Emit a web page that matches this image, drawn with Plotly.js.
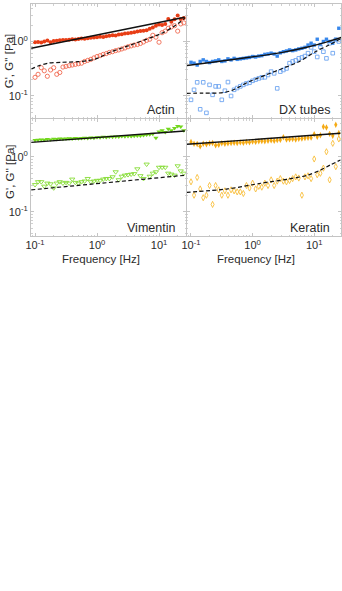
<!DOCTYPE html>
<html>
<head>
<meta charset="utf-8">
<script src="https://cdn.plot.ly/plotly-3.0.1.min.js"></script>
<style>html,body{margin:0;padding:0;background:#fff;}#chart{width:342px;height:591px;}</style>
</head>
<body>
<div id="chart"></div>
<script>
// Frequencies [Hz]
const freq = [0.1, 0.112, 0.126, 0.141, 0.158, 0.178, 0.2, 0.224, 0.251, 0.282,
  0.316, 0.355, 0.398, 0.447, 0.501, 0.562, 0.631, 0.708, 0.794, 0.891,
  1, 1.12, 1.26, 1.41, 1.58, 1.78, 2, 2.24, 2.51, 2.82,
  3.16, 3.55, 3.98, 4.47, 5.01, 5.62, 6.31, 7.08, 7.94, 8.91,
  10, 11.2, 12.6, 14.1, 15.8, 17.8, 20, 22.4, 25.1];

// Actin
const actinGp = [0.97, 0.98, 0.96, 1.00, 1.04, 0.97, 1.02, 1.03, 1.05, 1.06,
  1.07, 1.08, 1.10, 1.09, 1.11, 1.13, 1.12, 1.15, 1.17, 1.18,
  1.20, 1.22, 1.21, 1.25, 1.27, 1.30, 1.29, 1.34, 1.36, 1.40,
  1.42, 1.45, 1.47, 1.52, 1.55, 1.58, 1.60, 1.72, 1.80, 1.95,
  2.05, 2.00, 2.10, 2.6, 2.3, 2.55, 3.0, 2.6, 2.7];
const actinGpp = [0.22, 0.25, 0.33, 0.29, 0.23, 0.30, 0.33, 0.25, 0.27, 0.34,
  0.35, 0.36, 0.37, 0.38, 0.39, 0.40, 0.43, 0.45, 0.47, 0.50,
  0.53, 0.55, 0.58, 0.60, 0.63, 0.65, 0.68, 0.70, 0.73, 0.76,
  0.80, 0.83, 0.86, 0.88, 0.92, 0.98, 1.05, 1.10, 1.30, 1.20,
  0.97, 1.45, 1.55, 1.75, 1.85, 1.95, 1.55, 2.1, 2.2];
const actinFitF = [0.087, 26.0];
const actinGpFit = [0.75, 2.78];
const actinGppFitF = [0.087, 0.112, 0.162, 0.266, 0.494, 0.912, 1.70, 3.16, 5.89, 10.96, 17.8, 26.0];
const actinGppFit = [0.31, 0.355, 0.40, 0.415, 0.426, 0.47, 0.65, 0.83, 1.07, 1.41, 1.92, 2.66];

// DX tubes
const dxGp = [0.415, 0.40, 0.37, 0.43, 0.46, 0.43, 0.41, 0.43, 0.44, 0.46,
  0.43, 0.44, 0.48, 0.46, 0.49, 0.47, 0.48, 0.49, 0.50, 0.51,
  0.53, 0.52, 0.54, 0.55, 0.58, 0.59, 0.61, 0.59, 0.54, 0.62,
  0.65, 0.67, 0.70, 0.68, 0.70, 0.73, 0.75, 0.78, 0.86, 0.93,
  0.86, 1.10, 0.88, 1.0, 1.10, 1.0, 0.93, 1.10, 1.75];
const dxGpp = [0.085, 0.13, 0.178, 0.057, 0.178, 0.049, 0.16, 0.105, 0.15, 0.15,
  0.085, 0.125, 0.18, 0.10, 0.13, 0.14, 0.15, 0.16, 0.17, 0.175,
  0.19, 0.20, 0.21, 0.22, 0.22, 0.243, 0.28, 0.26, 0.138, 0.28,
  0.30, 0.32, 0.40, 0.43, 0.45, 0.49, 0.51, 0.54, 0.61, 0.78,
  0.65, 0.52, 0.80, 0.65, 0.49, 0.93, 0.61, 1.07, 1.0];
const dxFitF = [0.084, 0.257, 0.88, 3.05, 8.2, 15.2, 27.5];
const dxGpFit = [0.36, 0.426, 0.513, 0.633, 0.80, 0.965, 1.19];
const dxGppFitF = [0.084, 0.156, 0.328, 0.48, 0.88, 1.64, 3.05, 5.66, 10.5, 17.3, 27.5];
const dxGppFit = [0.112, 0.113, 0.115, 0.129, 0.183, 0.243, 0.32, 0.426, 0.65, 0.86, 1.14];

// Vimentin
const vimGp = [2.0, 2.02, 2.05, 2.02, 2.08, 2.05, 2.1, 2.08, 2.12, 2.1,
  2.12, 2.15, 2.13, 2.17, 2.15, 2.18, 2.2, 2.18, 2.22, 2.2,
  2.25, 2.23, 2.28, 2.25, 2.3, 2.28, 2.32, 2.3, 2.35, 2.33,
  2.36, 2.35, 2.38, 2.4, 2.42, 2.45, 2.5, 2.55, 2.6, 2.2,
  2.85, 3.0, 2.8, 3.2, 3.0, 3.3, 3.6, 3.5, 3.0];
const vimGpp = [0.31, 0.35, 0.35, 0.29, 0.33, 0.32, 0.27, 0.33, 0.35, 0.33,
  0.34, 0.33, 0.39, 0.34, 0.33, 0.35, 0.36, 0.40, 0.35, 0.36,
  0.37, 0.37, 0.39, 0.40, 0.40, 0.43, 0.53, 0.38, 0.44, 0.46,
  0.47, 0.48, 0.49, 0.60, 0.45, 0.40, 0.73, 0.44, 0.50, 0.53,
  0.64, 0.64, 0.64, 0.50, 0.48, 0.46, 0.68, 0.55, 0.50];
const vimFitF = [0.087, 26.0];
const vimGpFit = [1.82, 2.93];
const vimGppFit = [0.25, 0.46];

// Keratin
const kerGp = [1.85, 1.72, 1.70, 1.55, 1.72, 1.68, 1.75, 1.78, 1.62, 1.65,
  1.75, 1.72, 1.75, 1.78, 1.80, 1.78, 1.82, 1.80, 1.85, 1.83,
  1.88, 1.86, 1.90, 1.92, 1.90, 1.95, 1.98, 1.95, 2.0, 2.02,
  2.25, 2.05, 2.08, 2.10, 2.06, 2.12, 2.15, 2.18, 2.20, 2.22,
  2.55, 2.30, 2.45, 3.5, 3.4, 2.6, 2.4, 3.8, 2.7];
const kerGpp = [0.35, 0.20, 0.42, 0.26, 0.18, 0.20, 0.30, 0.136, 0.30, 0.25,
  0.20, 0.24, 0.20, 0.25, 0.24, 0.23, 0.23, 0.215, 0.30, 0.27,
  0.33, 0.26, 0.29, 0.28, 0.33, 0.30, 0.38, 0.30, 0.36, 0.40,
  0.36, 0.35, 0.37, 0.40, 0.43, 0.41, 0.20, 0.43, 0.45, 0.40,
  0.91, 0.47, 0.50, 0.62, 1.23, 0.38, 1.75, 0.66, 2.1];
const kerFitF = [0.084, 26.6];
const kerGpFit = [1.68, 2.66];
const kerGppFitF = [0.084, 0.395, 1.36, 3.67, 7.7, 12.6, 18.3, 26.6];
const kerGppFit = [0.225, 0.26, 0.33, 0.39, 0.46, 0.57, 0.71, 0.87];

const panelNames = ['Actin', 'DX tubes', 'Vimentin', 'Keratin'];
const xTitle = 'Frequency [Hz]';
const yTitle = "G', G'' [Pa]";
const xTickVals = [0.1, 1, 10];
const xTickText = ['10<sup>-1</sup>', '10<sup>0</sup>', '10<sup>1</sup>'];
const yTickVals = [0.1, 1];
const yTickText = ['10<sup>-1</sup>', '10<sup>0</sup>'];

const FONT = 'Liberation Sans, Arial, sans-serif';
const TXT = '#2b2b2b';

function pts(xa, ya, y, sym, color, size, open) {
  return {
    x: freq, y: y, xaxis: xa, yaxis: ya, type: 'scatter', mode: 'markers',
    hoverinfo: 'skip', showlegend: false,
    marker: open ? {symbol: sym, size: size, color: color, line: {color: color, width: 0.9}}
                 : {symbol: sym, size: size, color: color, line: {width: 0}}
  };
}
function fit(xa, ya, fx, fy, dash) {
  return {
    x: fx, y: fy, xaxis: xa, yaxis: ya, type: 'scatter', mode: 'lines',
    hoverinfo: 'skip', showlegend: false,
    line: {color: '#111', width: dash ? 1.2 : 1.4, dash: dash ? '4px,2.5px' : 'solid', shape: 'spline', smoothing: 0.8}
  };
}

const data = [
  pts('x', 'y', actinGp, 'circle', 'rgb(232,62,22)', 4, false),
  pts('x', 'y', actinGpp, 'circle-open', 'rgb(240,105,80)', 4.2, true),
  fit('x', 'y', actinFitF, actinGpFit, false),
  fit('x', 'y', actinGppFitF, actinGppFit, true),

  pts('x2', 'y2', dxGp, 'square', 'rgb(55,135,235)', 3.4, false),
  pts('x2', 'y2', dxGpp, 'square-open', 'rgb(110,165,240)', 3.6, true),
  fit('x2', 'y2', dxFitF, dxGpFit, false),
  fit('x2', 'y2', dxGppFitF, dxGppFit, true),

  pts('x3', 'y3', vimGp, 'triangle-down', 'rgb(115,215,30)', 4.6, false),
  pts('x3', 'y3', vimGpp, 'triangle-down-open', 'rgb(135,220,55)', 4.6, true),
  fit('x3', 'y3', vimFitF, vimGpFit, false),
  fit('x3', 'y3', vimFitF, vimGppFit, true),

  pts('x4', 'y4', kerGp, 'diamond-tall', 'rgb(245,170,20)', 4.6, false),
  pts('x4', 'y4', kerGpp, 'diamond-tall-open', 'rgb(248,190,60)', 4.4, true),
  fit('x4', 'y4', kerFitF, kerGpFit, false),
  fit('x4', 'y4', kerGppFitF, kerGppFit, true)
];

const XR = [-1.065, 1.435];
const common = {
  type: 'log', showgrid: false, zeroline: false, showline: true, linecolor: '#c4c4c4', linewidth: 1,
  mirror: 'allticks', ticks: 'inside', ticklen: 3, tickcolor: '#c4c4c4', tickwidth: 1,
  tickmode: 'array', tickfont: {family: FONT, size: 11, color: TXT},
  minor: {ticks: 'inside', ticklen: 1.5, tickcolor: '#d0d0d0', dtick: 'D1', showgrid: false}
};
function xax(dom, labels, anchor) {
  return Object.assign({}, common, {domain: dom, range: XR, anchor: anchor,
    tickvals: xTickVals, ticktext: xTickText, showticklabels: labels, ticklabelstandoff: -1});
}
function yax(dom, range, labels, anchor) {
  return Object.assign({}, common, {domain: dom, range: range, anchor: anchor,
    tickvals: yTickVals, ticktext: yTickText, showticklabels: labels});
}

const TOPY = [0.5086, 1], BOTY = [0, 0.5043];
const LX = [0, 0.5], RX = [0.5032, 1];
const YRT = [-1.404, 0.688], YRB = [-1.44, 0.685];

function label(txt, xr, yr) {
  return {text: txt, xref: xr + ' domain', yref: yr + ' domain', x: 0.94, y: -0.01,
    xanchor: 'right', yanchor: 'bottom', showarrow: false,
    font: {family: FONT, size: 12.5, color: TXT}};
}

const layout = {
  width: 342, height: 591,
  margin: {l: 31, r: 1, t: 4, b: 355},
  paper_bgcolor: '#fff', plot_bgcolor: '#fff',
  xaxis: xax(LX, false, 'y'), yaxis: yax(TOPY, YRT, true, 'x'),
  xaxis2: xax(RX, false, 'y2'), yaxis2: yax(TOPY, YRT, false, 'x2'),
  xaxis3: xax(LX, true, 'y3'), yaxis3: yax(BOTY, YRB, true, 'x3'),
  xaxis4: xax(RX, true, 'y4'), yaxis4: yax(BOTY, YRB, false, 'x4'),
  annotations: [
    label(panelNames[0], 'x', 'y'),
    label(panelNames[1], 'x2', 'y2'),
    label(panelNames[2], 'x3', 'y3'),
    label(panelNames[3], 'x4', 'y4'),
    {text: yTitle, xref: 'paper', yref: 'y domain', x: -0.07, y: 0.5, xanchor: 'center', yanchor: 'middle',
      textangle: -90, showarrow: false, font: {family: FONT, size: 11.5, color: TXT}},
    {text: yTitle, xref: 'paper', yref: 'y3 domain', x: -0.07, y: 0.55, xanchor: 'center', yanchor: 'middle',
      textangle: -90, showarrow: false, font: {family: FONT, size: 11.5, color: TXT}},
    {text: xTitle, xref: 'x3 domain', yref: 'paper', x: 0.45, y: -0.1, xanchor: 'center', yanchor: 'middle',
      showarrow: false, font: {family: FONT, size: 11.5, color: TXT}},
    {text: xTitle, xref: 'x4 domain', yref: 'paper', x: 0.45, y: -0.1, xanchor: 'center', yanchor: 'middle',
      showarrow: false, font: {family: FONT, size: 11.5, color: TXT}}
  ]
};

Plotly.newPlot('chart', data, layout, {staticPlot: true, displayModeBar: false});
</script>
</body>
</html>
